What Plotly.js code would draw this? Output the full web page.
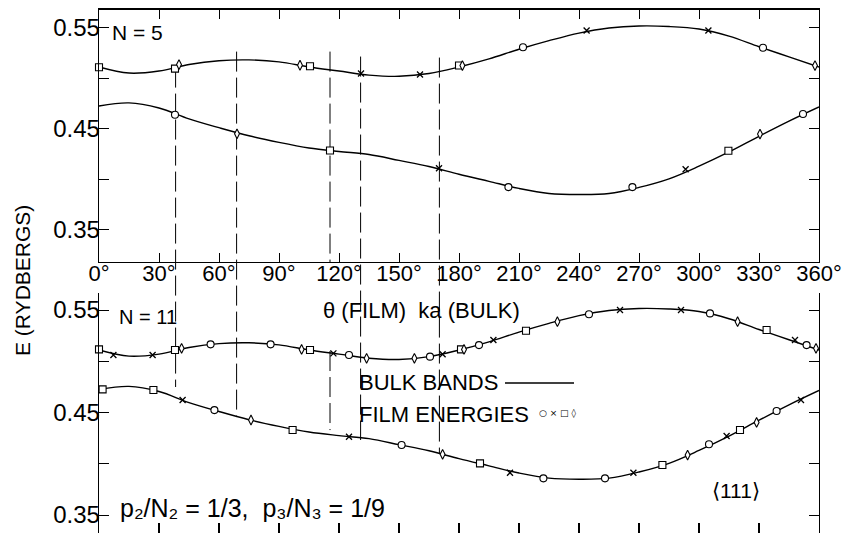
<!DOCTYPE html>
<html>
<head>
<meta charset="utf-8">
<script src="https://cdn.plot.ly/plotly-3.0.1.min.js"></script>
<style>html,body{margin:0;padding:0;background:#fff;overflow:hidden}#chart{width:851px;height:535px}</style>
</head>
<body>
<div id="chart"></div>
<script>
// ---- Bulk bands (ka in degrees, E in Rydbergs) ----
const bulkKa = [0,15,30,45,60,75,90,105,120,135,150,165,180,195,210,225,240,255,270,285,300,315,330,345,360];
const bulkUpper = [0.511,0.505,0.507,0.5135,0.5172,0.518,0.516,0.511,0.507,0.503,0.5018,0.5045,0.511,0.519,0.5285,0.537,0.5445,0.5495,0.5515,0.551,0.5485,0.5415,0.531,0.521,0.511];
const bulkLower = [0.4725,0.4755,0.4705,0.4597,0.451,0.443,0.4365,0.431,0.4275,0.4245,0.4187,0.4127,0.405,0.398,0.391,0.386,0.385,0.386,0.392,0.4005,0.413,0.427,0.4425,0.4575,0.4715];

// ---- Film energies, N = 5 ----
const n5CircleKa = [212,332,38,204.7,266.7,352];
const n5CircleE  = [0.5305,0.530,0.4638,0.3923,0.3923,0.4646];
const n5XKa = [131,160.5,243.8,304.7,170,293.3];
const n5XE  = [0.5045,0.5035,0.547,0.547,0.411,0.410];
const n5SquareKa = [0,38,105.5,180,115.5,314.7];
const n5SquareE  = [0.5107,0.5094,0.5117,0.5124,0.4285,0.4282];
const n5DiamondKa = [40,100.5,181.7,358,69,330.5];
const n5DiamondE  = [0.5134,0.5127,0.5124,0.5124,0.445,0.4447];

// ---- Film energies, N = 11 ----
const n11CircleKa = [55.8,85.8,125,165.5,190,245,305.5,353.8,57.7,151.3,222.2,253,305,338.8];
const n11CircleE  = [0.5165,0.5165,0.5061,0.5045,0.5158,0.5458,0.5467,0.5158,0.4524,0.4183,0.3858,0.3858,0.419,0.4515];
const n11XKa = [7.2,26.8,117.2,171.8,197.2,260.5,291,348,41.8,125,205.5,267.2,313.8,351];
const n11XE  = [0.5061,0.5061,0.5077,0.5068,0.5207,0.55,0.55,0.5207,0.4622,0.4264,0.3913,0.3913,0.4271,0.4622];
const n11SquareKa = [0,38,105.5,181,213.5,333.8,360.5,1.8,27.2,96.8,190.5,281.7,320.5];
const n11SquareE  = [0.5116,0.511,0.511,0.5116,0.5298,0.5305,0.5103,0.4726,0.472,0.4329,0.4004,0.3988,0.4329];
const n11DiamondKa = [41.3,101.3,133.8,157.7,182.5,229.2,319.3,358.5,76,171.8,294.3,328.8];
const n11DiamondE  = [0.5126,0.5116,0.5029,0.5029,0.5116,0.5386,0.5386,0.5126,0.4427,0.4092,0.4085,0.4404];

// ---- Dashed guide lines (ka) with their upper end (N=5 panel) and lower end (N=11 panel) ----
const dashKa   = [38.3,68.8,115.5,130.8,170.2];
const dashTopE = [0.5104,0.5262,0.5262,0.5213,0.5203];
const dashBotE = [0.4749,0.4456,0.4329,0.4232,0.4105];
const dashBroken = [false,false,true,false,false];   // interrupted across the tick-label strip
const dashBotStartE = 0.510;                         // restart level of the broken line in the N=11 panel

// ---- Tick labels ----
const xTickVals = [0,30,60,90,120,150,180,210,240,270,300,330,360];
const xTickText = ['0°','30°','60°','90°','120°','150°','180°','210°','240°','270°','300°','330°','360°'];
const yTickVals = [0.35,0.45,0.55];
const yTickText = ['0.35','0.45','0.55'];

const FONT = 'Liberation Sans, Arial, sans-serif';

const W = 851, H = 535;
const xDom = [99/W, 819/W];
const topDom = [1-262/H, 1-9.5/H];
const botDom = [2/H, 1-293/H];
const topRange = [0.3183, 0.5678];
const botRange = [0.3325, 0.5666];

function lineTrace(x, y, xa, ya){
  return {x:x, y:y, xaxis:xa, yaxis:ya, mode:'lines', type:'scatter',
    line:{color:'#000', width:1.4, shape:'spline', smoothing:1}, hoverinfo:'skip', showlegend:false};
}
function markTrace(x, y, xa, ya, sym){
  const m = {circle:{symbol:'circle', size:7}, x:{symbol:'x-thin', size:6}, square:{symbol:'square', size:7}, diamond:{symbol:'diamond-tall', size:7}}[sym];
  const isX = sym==='x';
  return {x:x, y:y, xaxis:xa, yaxis:ya, mode:'markers', type:'scatter', cliponaxis:false,
    marker:{symbol:m.symbol, size:m.size, color:'#fff', line:{color:'#000', width:isX?1.3:1.1}},
    hoverinfo:'skip', showlegend:false};
}

const data = [
  lineTrace(bulkKa, bulkUpper, 'x', 'y'),
  lineTrace(bulkKa, bulkLower, 'x', 'y'),
  lineTrace(bulkKa, bulkUpper, 'x2', 'y2'),
  lineTrace(bulkKa, bulkLower, 'x2', 'y2'),
  markTrace(n5CircleKa, n5CircleE, 'x', 'y', 'circle'),
  markTrace(n5XKa, n5XE, 'x', 'y', 'x'),
  markTrace(n5SquareKa, n5SquareE, 'x', 'y', 'square'),
  markTrace(n5DiamondKa, n5DiamondE, 'x', 'y', 'diamond'),
  markTrace(n11CircleKa, n11CircleE, 'x2', 'y2', 'circle'),
  markTrace(n11XKa, n11XE, 'x2', 'y2', 'x'),
  markTrace(n11SquareKa, n11SquareE, 'x2', 'y2', 'square'),
  markTrace(n11DiamondKa, n11DiamondE, 'x2', 'y2', 'diamond')
];

function topToPaper(v){ return topDom[0] + (v-topRange[0])/(topRange[1]-topRange[0])*(topDom[1]-topDom[0]); }
function botToPaper(v){ return botDom[0] + (v-botRange[0])/(botRange[1]-botRange[0])*(botDom[1]-botDom[0]); }

const dashStyle = {color:'#000', width:1, dash:'20px,6px'};
const shapes = [];
dashKa.forEach((k,i)=>{
  if (dashBroken[i]) {
    shapes.push({type:'line', xref:'x', yref:'paper', x0:k, x1:k, y0:topToPaper(dashTopE[i]), y1:topDom[0], line:dashStyle, layer:'below'});
    shapes.push({type:'line', xref:'x', yref:'paper', x0:k, x1:k, y0:botToPaper(dashBotStartE), y1:botToPaper(dashBotE[i]), line:dashStyle, layer:'below'});
  } else {
    shapes.push({type:'line', xref:'x', yref:'paper', x0:k, x1:k, y0:topToPaper(dashTopE[i]), y1:botToPaper(dashBotE[i]), line:dashStyle, layer:'below'});
  }
});
// legend sample line
shapes.push({type:'line', xref:'paper', yref:'paper', x0:505/W, x1:574/W, y0:1-383/H, y1:1-383/H, line:{color:'#000', width:1.6}});

function ann(text, px, py, size, opts){
  return Object.assign({text:text, xref:'paper', yref:'paper', x:px/W, y:1-py/H, showarrow:false,
    xanchor:'left', yanchor:'middle', font:{family:FONT, size:size, color:'#000'}}, opts||{});
}

const annotations = [
  ann('N = 5', 110, 32, 21),
  ann('N = 11', 117, 317, 20),
  ann('θ (FILM)  ka (BULK)', 421, 310, 22, {xanchor:'center'}),
  ann('E (RYDBERGS)', 22, 281, 21, {xanchor:'center', textangle:-90}),
  ann('BULK BANDS', 357, 382, 22),
  ann('FILM ENERGIES', 357, 414, 22),
  ann('○ × □ ◊', 537, 413, 9, {font:{family:'DejaVu Sans', size:9, color:'#000'}}),
  ann('p₂/N₂ = 1/3,  p₃/N₃ = 1/9', 118, 508, 25),
  ann('⟨111⟩', 736, 490, 21, {xanchor:'center'})
];

const axBase = {range:[0,360], domain:xDom, tickmode:'array', tickvals:xTickVals, ticktext:xTickText,
  ticks:'inside', ticklen:9, tickwidth:1, tickcolor:'#000', showgrid:false, zeroline:false,
  tickfont:{family:FONT, size:22, color:'#000'}, fixedrange:true};
const yBase = {tickmode:'array', tickvals:yTickVals, ticktext:yTickText, ticks:'inside', ticklen:10,
  tickwidth:1, tickcolor:'#000', showgrid:false, zeroline:false, showline:true, linecolor:'#000', linewidth:1.3,
  minor:{ticks:'inside', ticklen:10, tickwidth:1, tickcolor:'#000', dtick:0.05, tick0:0.35, showgrid:false},
  mirror:'allticks', tickfont:{family:FONT, size:24, color:'#000'}, ticklabelstandoff:-7, fixedrange:true};

const layout = {
  width:W, height:H, margin:{l:0, r:0, t:0, b:0}, paper_bgcolor:'#fff', plot_bgcolor:'#fff',
  showlegend:false,
  xaxis: Object.assign({}, axBase, {anchor:'y', showline:true, linecolor:'#000', linewidth:1.3, mirror:'allticks', showticklabels:true, ticklabelstandoff:-9}),
  yaxis: Object.assign({}, yBase, {domain:topDom, range:topRange, anchor:'x'}),
  xaxis2: Object.assign({}, axBase, {anchor:'y2', showline:false, showticklabels:false, ticklen:10, tickwidth:1.2}),
  yaxis2: Object.assign({}, yBase, {domain:botDom, range:botRange, anchor:'x2'}),
  shapes:shapes, annotations:annotations
};

Plotly.newPlot('chart', data, layout, {staticPlot:true, displayModeBar:false});
</script>
</body>
</html>
